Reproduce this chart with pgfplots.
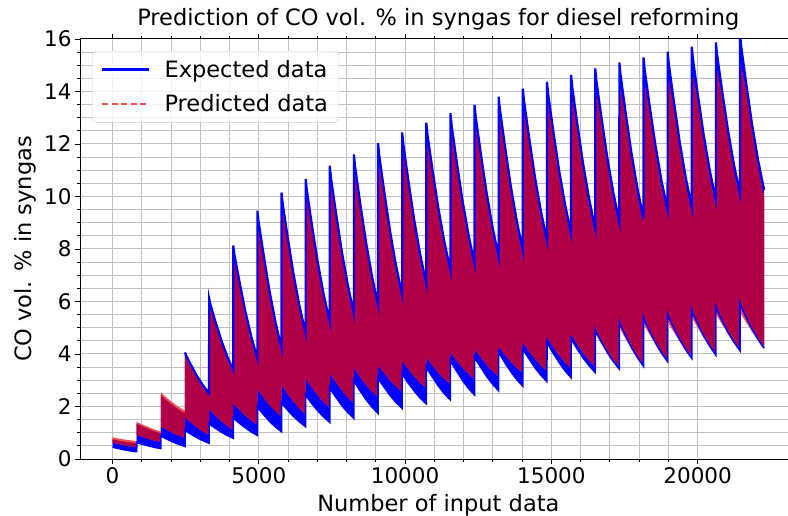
\documentclass[border=0pt]{standalone}
\usepackage{fontspec}
\setmainfont{DejaVu Sans}
\usepackage{pgfplots}
\pgfplotsset{compat=1.18}
\usepgfplotslibrary{fillbetween}
\usepackage{pgfplotstable}
\definecolor{expblue}{RGB}{0,0,255}
\definecolor{predred}{RGB}{245,80,80}
\definecolor{overlap}{RGB}{176,0,72}
\definecolor{gridgray}{RGB}{192,192,192}

\pgfplotstableread{
x bt rt rb bb
0 0.75 0.83 0.62 0.45
41 0.74 0.82 0.61 0.44
206 0.70 0.78 0.57 0.40
412 0.66 0.74 0.52 0.35
619 0.63 0.71 0.48 0.31
824 0.60 0.68 0.45 0.28
825 1.35 1.42 0.92 0.63
866 1.32 1.39 0.90 0.61
1031 1.24 1.31 0.84 0.56
1237 1.14 1.21 0.76 0.50
1444 1.05 1.12 0.70 0.44
1649 0.98 1.05 0.65 0.40
1650 2.45 2.55 1.25 0.88
1691 2.39 2.49 1.21 0.85
1856 2.23 2.33 1.11 0.76
2062 2.04 2.14 0.99 0.65
2269 1.88 1.98 0.89 0.56
2474 1.74 1.84 0.80 0.48
2475 4.06 3.95 1.61 1.10
2516 3.94 3.84 1.55 1.06
2681 3.58 3.48 1.39 0.95
2887 3.16 3.06 1.20 0.81
3094 2.80 2.70 1.04 0.70
3299 2.50 2.40 0.91 0.60
3300 6.12 5.74 1.93 1.36
3341 5.90 5.74 1.86 1.31
3506 5.27 5.15 1.67 1.18
3712 4.54 4.42 1.45 1.03
3919 3.91 3.79 1.26 0.90
4124 3.39 3.27 1.10 0.79
4125 8.13 7.58 2.15 1.58
4166 7.79 7.58 2.08 1.53
4331 6.80 6.65 1.89 1.37
4537 5.64 5.49 1.66 1.19
4744 4.66 4.51 1.46 1.03
4949 3.84 3.69 1.30 0.90
4950 9.46 8.85 2.69 2.00
4991 9.04 8.85 2.60 1.92
5156 7.84 7.69 2.36 1.70
5362 6.42 6.27 2.06 1.44
5569 5.22 5.07 1.82 1.22
5774 4.22 4.07 1.61 1.04
5775 10.15 9.49 2.85 2.15
5816 9.72 9.49 2.76 2.08
5981 8.49 8.34 2.49 1.87
6187 7.04 6.89 2.18 1.62
6394 5.81 5.66 1.92 1.41
6599 4.79 4.64 1.70 1.23
6600 10.67 9.99 3.10 2.45
6641 10.24 9.99 3.01 2.37
6806 8.98 8.80 2.74 2.12
7012 7.52 7.34 2.43 1.84
7219 6.26 6.08 2.17 1.60
7424 5.23 5.05 1.95 1.40
7425 11.17 10.44 3.30 2.72
7466 10.72 10.44 3.21 2.63
7631 9.43 9.25 2.93 2.36
7837 7.91 7.73 2.62 2.04
8044 6.62 6.44 2.34 1.77
8249 5.55 5.37 2.12 1.55
8250 11.60 10.88 3.50 3.00
8291 11.14 10.88 3.41 2.90
8456 9.82 9.64 3.14 2.61
8662 8.28 8.10 2.83 2.27
8869 6.96 6.78 2.57 1.98
9074 5.87 5.69 2.35 1.74
9075 12.03 11.26 3.60 3.10
9116 11.57 11.26 3.52 3.01
9281 10.24 10.02 3.28 2.74
9487 8.68 8.46 3.00 2.42
9694 7.35 7.13 2.76 2.15
9899 6.25 6.03 2.56 1.93
9900 12.44 11.64 3.77 3.26
9941 11.98 11.64 3.68 3.17
10106 10.66 10.44 3.44 2.90
10312 9.11 8.89 3.14 2.59
10519 7.78 7.56 2.90 2.32
10724 6.69 6.47 2.69 2.10
10725 12.81 12.00 3.90 3.52
10766 12.36 12.00 3.82 3.42
10931 11.07 10.85 3.57 3.13
11137 9.56 9.34 3.29 2.78
11344 8.27 8.05 3.05 2.49
11549 7.20 6.98 2.85 2.25
11550 13.17 12.28 4.09 3.77
11591 12.71 12.28 4.01 3.66
11756 11.40 11.18 3.76 3.36
11962 9.85 9.63 3.48 3.00
12169 8.54 8.32 3.24 2.69
12374 7.45 7.23 3.04 2.44
12375 13.49 12.60 4.22 3.90
12416 13.03 12.60 4.13 3.80
12581 11.70 11.44 3.89 3.50
12787 10.14 9.88 3.60 3.15
12994 8.81 8.55 3.35 2.85
13199 7.71 7.45 3.15 2.60
13200 13.80 12.94 4.30 4.09
13241 13.33 12.94 4.22 3.99
13406 11.99 11.73 3.98 3.68
13612 10.41 10.15 3.71 3.33
13819 9.07 8.81 3.47 3.03
14024 7.96 7.70 3.28 2.78
14025 14.11 13.17 4.47 4.22
14066 13.65 13.17 4.38 4.12
14231 12.32 12.06 4.12 3.83
14437 10.76 10.50 3.82 3.48
14644 9.44 9.18 3.56 3.19
14849 8.34 8.08 3.35 2.95
14850 14.37 13.45 4.66 4.47
14891 13.91 13.45 4.56 4.36
15056 12.58 12.32 4.29 4.05
15262 11.02 10.76 3.96 3.68
15469 9.70 9.44 3.68 3.36
15674 8.60 8.34 3.45 3.10
15675 14.63 13.61 4.79 4.60
15716 14.16 13.61 4.69 4.50
15881 12.82 12.52 4.39 4.20
16087 11.24 10.94 4.04 3.85
16294 9.90 9.60 3.75 3.55
16499 8.79 8.49 3.50 3.30
16500 14.88 13.90 4.85 4.92
16541 14.41 13.90 4.74 4.80
16706 13.07 12.77 4.44 4.46
16912 11.49 11.19 4.08 4.06
17119 10.15 9.85 3.78 3.71
17324 9.04 8.74 3.53 3.43
17325 15.11 14.08 5.04 5.23
17366 14.64 14.08 4.93 5.10
17531 13.27 12.97 4.60 4.71
17737 11.67 11.37 4.22 4.25
17944 10.30 10.00 3.89 3.86
18149 9.17 8.87 3.62 3.54
18150 15.30 14.25 5.17 5.40
18191 14.84 14.25 5.06 5.27
18356 13.50 13.20 4.74 4.88
18562 11.93 11.63 4.37 4.42
18769 10.59 10.29 4.05 4.03
18974 9.49 9.19 3.79 3.71
18975 15.52 14.40 5.25 5.52
19016 15.05 14.40 5.14 5.39
19181 13.69 13.39 4.84 5.00
19387 12.09 11.79 4.48 4.55
19594 10.73 10.43 4.17 4.16
19799 9.61 9.31 3.92 3.84
19800 15.71 14.59 5.42 5.68
19841 15.24 14.59 5.31 5.54
20006 13.90 13.60 4.99 5.15
20212 12.32 12.02 4.62 4.68
20419 10.98 10.68 4.30 4.29
20624 9.87 9.57 4.04 3.96
20625 15.87 14.82 5.55 5.80
20666 15.41 14.82 5.44 5.67
20831 14.09 13.79 5.14 5.28
21037 12.54 12.24 4.77 4.83
21244 11.21 10.91 4.47 4.45
21449 10.12 9.82 4.21 4.13
21450 16.20 14.88 5.61 5.93
21491 15.72 14.88 5.51 5.79
21656 14.36 14.06 5.20 5.40
21862 12.75 12.45 4.85 4.94
22069 11.38 11.08 4.55 4.55
22274 10.25 9.95 4.30 4.22
}\data

\begin{document}
\begin{tikzpicture}
\begin{axis}[
  name=ax,
  scale only axis,
  width=716.7bp, height=420bp,
  xmin=-1114, xmax=23388, ymin=0, ymax=16,
  scaled x ticks=false, scaled y ticks=false,
  xtick={0,5000,10000,15000,20000},
  xticklabels={0,5000,10000,15000,20000},
  minor x tick num=4,
  ytick={0,2,4,6,8,10,12,14,16},
  yticklabels={0,2,4,6,8,10,12,14,16},
  minor y tick num=3,
  grid=both,
  major grid style={draw=gridgray, line width=1bp},
  minor grid style={draw=gridgray, line width=0.9bp},
  tick align=outside,
  major tick length=5bp, minor tick length=3bp,
  every tick/.style={black, line width=0.9bp},
  axis line style={black, line width=1bp},
  tick label style={font=\fontsize{21.5bp}{26bp}\selectfont},
  label style={font=\fontsize{22.5bp}{27bp}\selectfont},
  title style={font=\fontsize{22.5bp}{27bp}\selectfont, at={(axis description cs:0.5,1)}, anchor=base, yshift=8bp},
  xlabel={Number of input data},
  ylabel={CO vol. \% in syngas},
  xlabel style={at={(axis description cs:0.5,-0.125)}, anchor=base},
  ylabel style={at={(axis description cs:-0.067,0.5)}, anchor=base},
  title={Prediction of CO vol. \% in syngas for diesel reforming},
]
\addplot[name path=BT, draw=none, forget plot] table[x=x, y=bt]{\data};
\addplot[name path=BB, draw=none, forget plot] table[x=x, y=bb]{\data};
\addplot[name path=RT, draw=none, forget plot] table[x=x, y=rt]{\data};
\addplot[name path=RB, draw=none, forget plot] table[x=x, y=rb]{\data};
\addplot[name path=CT, draw=none, forget plot] table[x=x, y expr={min(\thisrow{bt},\thisrow{rt})}]{\data};
\addplot[name path=CB, draw=none, forget plot] table[x=x, y expr={max(\thisrow{bb},\thisrow{rb})}]{\data};
\addplot[fill=expblue, draw=none, forget plot] fill between[of=BT and BB];
\addplot[fill=predred, draw=none, forget plot] fill between[of=RT and RB];
\addplot[draw=expblue, line width=2.2bp, forget plot, restrict x to domain=2475:23000] table[x=x, y=bt]{\data};
\addplot[draw=expblue, line width=1.6bp, forget plot] table[x=x, y=bb]{\data};
\addplot[fill=overlap, draw=none, forget plot] fill between[of=CT and CB];
\end{axis}
\begin{axis}[
  at={(ax.south west)}, anchor=south west,
  scale only axis, width=716.7bp, height=420bp,
  xmin=0, xmax=1, ymin=0, ymax=1, hide axis,
  legend style={at={(0.0167,0.9714)}, anchor=north west, draw=black!20, rounded corners=4bp,
    fill=white, fill opacity=0.8, text opacity=1, draw opacity=1, inner xsep=9bp, inner ysep=7bp,
    font=\fontsize{22.5bp}{27bp}\selectfont, row sep=12bp, column sep=12bp, cells={anchor=west}},
  legend image code/.code={\draw[#1] (0bp,0bp) -- (47bp,0bp);},
]
\addlegendimage{draw=expblue, line width=2.4bp}
\addlegendentry{Expected data}
\addlegendimage{draw=predred, line width=2bp, dash pattern=on 6bp off 3.5bp}
\addlegendentry{Predicted data}
\end{axis}
\pgfresetboundingbox
\path[use as bounding box] ([xshift=-80bp,yshift=-57bp]ax.south west) rectangle ++(788bp,516bp);
\end{tikzpicture}
\end{document}
